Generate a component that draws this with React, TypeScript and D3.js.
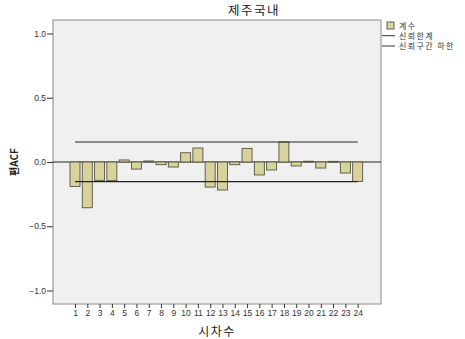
import React, { useEffect, useRef } from 'react';
import * as d3 from 'd3';

const lags = d3.range(1, 25);
const pacf = [
  -0.19, -0.356, -0.143, -0.145, 0.016, -0.055, 0.008, -0.021, -0.039, 0.072, 0.109, -0.195,
  -0.218, -0.021, 0.106, -0.101, -0.062, 0.156, -0.031, 0.006, -0.047, 0.005, -0.086, -0.151,
];
const upperLimit = 0.156;
const lowerLimit = -0.153;
const yTicks = [-1.0, -0.5, 0.0, 0.5, 1.0];
const legendItems = ['계수', '신뢰한계', '신뢰구간 하한'];

const App = () => {
  const ref = useRef<SVGSVGElement>(null);

  useEffect(() => {
    const svg = d3.select(ref.current);
    svg.selectAll('*').remove();
    const left = 53, right = 381, top = 20, bottom = 304;
    const font = '"Liberation Sans", Arial, sans-serif';
    const kfont = '"Noto Sans CJK KR", sans-serif';

    const x = d3.scaleLinear().domain([-0.79, 25.9]).range([left, right]);
    const y = d3.scaleLinear().domain([-1.105, 1.105]).range([bottom, top]);

    svg.append('rect').attr('width', 465).attr('height', 339).attr('fill', '#fff');
    svg.append('rect')
      .attr('x', left).attr('y', top)
      .attr('width', right - left).attr('height', bottom - top)
      .attr('fill', '#f0f0f0').attr('stroke', '#8a8a8a').attr('stroke-width', 1);

    // y axis
    const yAxis = svg.append('g').attr('transform', `translate(${left},0)`)
      .call(d3.axisLeft(y).tickValues(yTicks).tickFormat(d3.format('.1f')).tickSize(6).tickPadding(1));
    yAxis.select('.domain').remove();
    yAxis.selectAll('line').attr('stroke', '#333');
    yAxis.selectAll('text').attr('font-family', font).attr('font-size', 8.5).attr('fill', '#333');

    // x axis
    const xAxis = svg.append('g').attr('transform', `translate(0,${bottom})`)
      .call(d3.axisBottom(x).tickValues(lags).tickFormat(d3.format('d')).tickSize(4).tickPadding(2));
    xAxis.select('.domain').remove();
    xAxis.selectAll('line').attr('stroke', '#333');
    xAxis.selectAll('text').attr('font-family', font).attr('font-size', 8.5).attr('fill', '#333');

    // zero line
    svg.append('line')
      .attr('x1', left).attr('x2', right)
      .attr('y1', y(0)).attr('y2', y(0))
      .attr('stroke', '#222').attr('stroke-width', 1);

    const bw = 10;
    svg.append('g').selectAll('rect').data(pacf).enter().append('rect')
      .attr('x', (_, i) => x(lags[i]) - bw / 2)
      .attr('y', (d) => y(Math.max(d, 0)))
      .attr('width', bw)
      .attr('height', (d) => Math.max(Math.abs(y(d) - y(0)), 0.8))
      .attr('fill', '#d8d29c')
      .attr('stroke', '#55543f')
      .attr('stroke-width', 0.9);

    // confidence limits
    [upperLimit, lowerLimit].forEach((v) => {
      svg.append('line')
        .attr('x1', x(1)).attr('x2', x(24))
        .attr('y1', y(v)).attr('y2', y(v))
        .attr('stroke', '#222').attr('stroke-width', 1.1);
    });

    // title
    svg.append('text').attr('x', 254).attr('y', 15).attr('text-anchor', 'middle')
      .attr('font-family', kfont).attr('font-size', 12.5).attr('letter-spacing', 1.5)
      .attr('fill', '#222').text('제주국내');

    // axis titles
    svg.append('text').attr('transform', `translate(18,${y(0)}) rotate(-90)`)
      .attr('text-anchor', 'middle').attr('font-family', kfont).attr('font-weight', 'bold')
      .attr('font-size', 10).attr('fill', '#222').text('편ACF');
    svg.append('text').attr('x', 217).attr('y', 336).attr('text-anchor', 'middle')
      .attr('font-family', kfont).attr('font-size', 12).attr('letter-spacing', 1.5)
      .attr('fill', '#222').text('시차수');

    // legend
    const lg = svg.append('g');
    lg.append('rect').attr('x', 387).attr('y', 22).attr('width', 7).attr('height', 7)
      .attr('fill', '#d8d29c').attr('stroke', '#55543f').attr('stroke-width', 0.9);
    [35.7, 46].forEach((ly) => {
      lg.append('line').attr('x1', 382).attr('x2', 395).attr('y1', ly).attr('y2', ly)
        .attr('stroke', '#333').attr('stroke-width', 1);
    });
    legendItems.forEach((t, i) => {
      lg.append('text').attr('x', 399).attr('y', [28.5, 38.5, 49][i])
        .attr('font-family', kfont).attr('font-size', 8).attr('letter-spacing', 1.4)
        .attr('fill', '#333').text(t);
    });
  }, []);

  return (
    <svg ref={ref} width={465} height={339} style={{ position: 'absolute', left: 0, top: 0 }} />
  );
};

export default App;
